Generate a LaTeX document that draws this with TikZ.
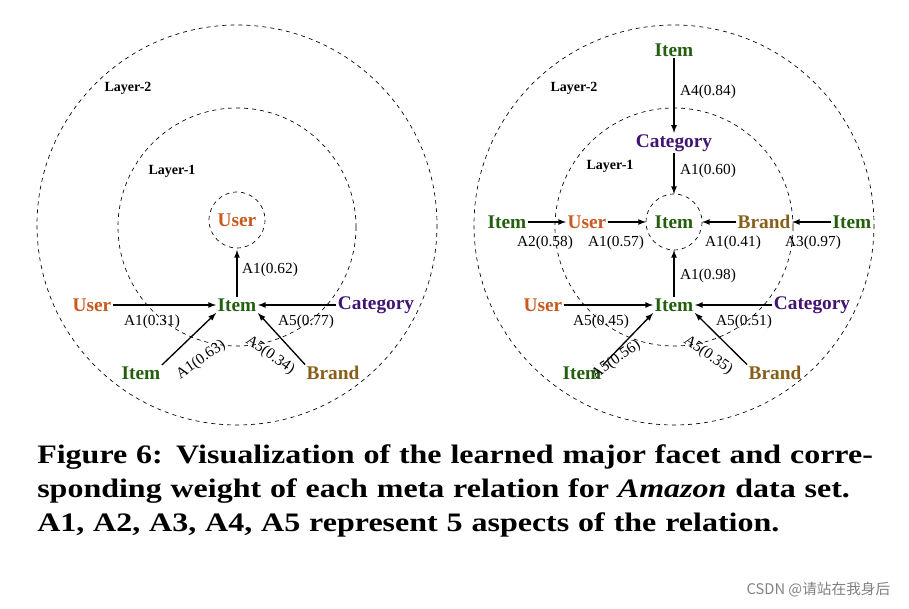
\documentclass[tikz,border=0pt]{standalone}
\usepackage{fontspec}
\setmainfont{Liberation Serif}
\newfontfamily\capfont{Liberation Serif}[FakeStretch=1.2]
\newfontfamily\cjk{Noto Sans CJK SC}
\usetikzlibrary{arrows,positioning}
\definecolor{usercol}{RGB}{200,90,30}
\definecolor{itemcol}{RGB}{35,95,15}
\definecolor{catcol}{RGB}{65,20,115}
\definecolor{brandcol}{RGB}{135,95,25}
\tikzset{
  ent/.style={font=\fontsize{14.5}{16}\selectfont\bfseries, inner sep=1pt},
  user/.style={ent, text=usercol},
  item/.style={ent, text=itemcol},
  cat/.style={ent, text=catcol},
  brand/.style={ent, text=brandcol},
  wt/.style={font=\fontsize{11.5}{13}\selectfont, inner sep=0pt},
  layer/.style={font=\fontsize{10.5}{12}\selectfont\bfseries},
  ring/.style={dashed, line width=0.5pt},
  rel/.style={-latex, line width=1pt}
}
\begin{document}
\begin{tikzpicture}[x=0.75pt,y=-0.75pt]
\useasboundingbox (0,0) rectangle (909,609);

% Left rings
\draw[ring] (237,225) circle (200);
\draw[ring] (237,227) circle (119);
\draw[ring] (237,220) circle (28);
\node[layer] at (128,88) {Layer-2};
\node[layer] at (172,171) {Layer-1};

% Left nodes
\node[user] (lu0) at (237,220) {User};
\node[item] (li) at (237,305) {Item};
\node[user] (lu) at (92,305) {User};
\node[cat] (lc) at (376,305) {Category};
\node[item] (lib) at (141,373) {Item};
\node[brand] (lb) at (333,373) {Brand};

\draw[rel] (li) -- (237,250);
\draw[rel] (lu) -- (li);
\draw[rel] (lc) -- (li);
\draw[rel] (lib.north east) -- (li.south west);
\draw[rel] (lb.north west) -- (li.south east);

\node[wt] at (270,270) {A1(0.62)};
\node[wt] at (152,322) {A1(0.31)};
\node[wt] at (306,322) {A5(0.77)};
\node[wt, rotate=35] at (201,360) {A1(0.63)};
\node[wt, rotate=-35] at (270,355) {A5(0.34)};

% Right rings
\draw[ring] (674,225) circle (200);
\draw[ring] (674,227) circle (119);
\draw[ring] (674,222) circle (28);
\node[layer] at (574,88) {Layer-2};
\node[layer] at (610,166) {Layer-1};

% Right nodes
\node[item] (ri0) at (674,222) {Item};
\node[item] (rit) at (674,50) {Item};
\node[cat] (rct) at (674,143) {Category};
\node[user] (ru1) at (587,222) {User};
\node[item] (ril) at (507,222) {Item};
\node[brand] (rb1) at (764,222) {Brand};
\node[item] (rir) at (852,222) {Item};
\node[item] (ri) at (674,305) {Item};
\node[user] (ru) at (543,305) {User};
\node[cat] (rc) at (812,305) {Category};
\node[item] (rib) at (582,373) {Item};
\node[brand] (rb) at (775,373) {Brand};

\draw[rel] (rit) -- (rct);
\draw[rel] (rct) -- (674,194);
\draw[rel] (ril) -- (ru1);
\draw[rel] (ru1) -- (646,222);
\draw[rel] (rb1) -- (702,222);
\draw[rel] (rir) -- (rb1);
\draw[rel] (ri) -- (674,250);
\draw[rel] (ru) -- (ri);
\draw[rel] (rc) -- (ri);
\draw[rel] (rib.north east) -- (ri.south west);
\draw[rel] (rb.north west) -- (ri.south east);

\node[wt] at (708,92) {A4(0.84)};
\node[wt] at (708,171) {A1(0.60)};
\node[wt] at (545,243) {A2(0.58)};
\node[wt] at (616,243) {A1(0.57)};
\node[wt] at (733,243) {A1(0.41)};
\node[wt] at (813,243) {A3(0.97)};
\node[wt] at (708,276) {A1(0.98)};
\node[wt] at (601,322) {A5(0.45)};
\node[wt] at (744,322) {A5(0.51)};
\node[wt, rotate=35] at (616,360) {A5(0.56)};
\node[wt, rotate=-35] at (708,355) {A5(0.35)};

% Caption
\node[anchor=north west, text width=850pt*0.75, align=left, inner sep=0pt,
  font=\capfont\fontsize{20}{25.5}\selectfont\bfseries] (cap) at (37,444)
  {Figure 6: Visualization of the learned major facet and corre-\\sponding weight of each meta relation for \textit{Amazon} data set.\\A1, A2, A3, A4, A5 represent 5 aspects of the relation.};
\node[anchor=east, text=gray, font=\cjk\fontsize{11}{13}\selectfont] (wm) at (895,590) {CSDN @请站在我身后};
\end{tikzpicture}
\end{document}
